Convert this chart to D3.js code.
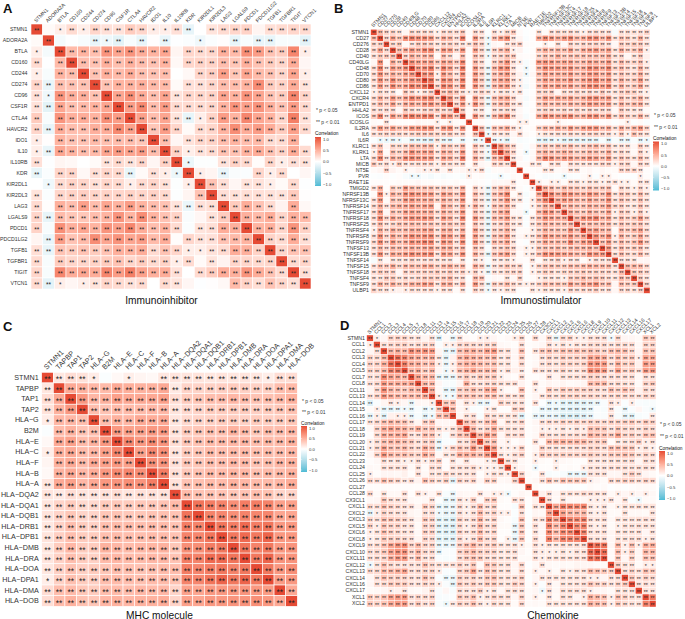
<!DOCTYPE html>
<html><head><meta charset="utf-8">
<script src="https://cdn.jsdelivr.net/npm/d3@7"></script>
<style>
html,body{margin:0;padding:0;background:#fff}
svg{display:block;font-family:"Liberation Sans",Arial,sans-serif}
</style></head><body>
<svg id="chart" width="685" height="619"></svg>
<script>
// Each values row holds the correlation (in hundredths) of gene i with genes i+1, i+2, ... (matrix is symmetric, diagonal = 1)
const genesA=["STMN1","ADORA2A","BTLA","CD160","CD244","CD274","CD96","CSF1R","CTLA4","HAVCR2","IDO1","IL10","IL10RB","KDR","KIR2DL1","KIR2DL3","LAG3","LGALS9","PDCD1","PDCD1LG2","TGFB1","TGFBR1","TIGIT","VTCN1"];
const valuesA=[
[3,10,21,10,24,18,17,30,24,11,10,18,-15,0,16,21,24,26,6,19,21,24,21],
[-7,-1,-5,-14,-10,-18,-5,-15,1,-14,-1,-3,-10,-3,1,-15,-5,-14,-15,-5,-5,-17],
[40,44,37,62,52,62,48,44,52,6,24,21,24,46,40,65,57,35,30,70,10],
[38,35,46,37,46,38,35,44,4,24,26,26,38,33,46,35,30,24,48,5],
[35,46,40,48,37,35,38,0,4,24,28,55,33,52,40,35,24,52,10],
[35,44,44,46,40,40,3,18,18,24,38,38,44,66,30,26,48,16],
[52,65,48,37,52,16,24,24,26,52,44,62,52,35,30,70,24],
[57,68,38,57,21,21,21,24,44,62,55,62,46,35,57,21],
[55,38,52,16,-15,10,26,57,44,70,52,44,24,74,17],
[33,57,24,3,21,24,44,66,48,57,48,30,55,21],
[38,5,17,24,26,38,44,38,40,21,21,46,0],
[26,10,17,21,35,35,44,48,35,26,48,21],
[-12,-2,-2,16,26,21,2,24,10,18,16],
[10,6,-13,-4,-3,24,10,21,0,5],
[35,18,5,16,17,10,3,21,-1],
[19,17,19,18,17,16,30,1],
[30,48,35,21,7,48,4],
[46,40,48,24,46,40],
[44,46,24,62,26],
[26,21,48,19],
[24,35,35],
[21,24],
[19]];

const genesB=["STMN1","CD27","CD276","CD28","CD40","CD40LG","CD48","CD70","CD80","CD86","CXCL12","CXCR4","ENTPD1","HHLA2","ICOS","ICOSLG","IL2RA","IL6","IL6R","KLRC1","KLRK1","LTA","MICB","NT5E","PVR","RAET1E","TMIGD2","TNFRSF13B","TNFRSF13C","TNFRSF14","TNFRSF17","TNFRSF18","TNFRSF25","TNFRSF4","TNFRSF8","TNFRSF9","TNFSF13","TNFSF13B","TNFSF14","TNFSF15","TNFSF18","TNFSF4","TNFSF9","ULBP1"];
const valuesB=[
[40,24,24,18,5,21,21,21,18,10,21,21,19,30,3,21,18,-3,19,10,21,30,3,-2,2,17,3,18,21,19,21,16,10,18,21,19,18,-6,18,18,17,18,24],
[24,52,30,62,70,62,62,57,21,46,40,18,70,2,57,21,-12,35,52,66,16,6,-3,2,46,66,57,46,57,66,40,46,62,62,40,62,16,35,30,17,46,17],
[21,30,4,16,30,30,26,16,24,26,21,16,16,35,24,-12,5,3,16,21,26,2,2,2,10,3,18,5,26,17,24,24,24,24,18,4,30,24,30,30,17],
[35,46,57,46,66,66,17,57,52,21,57,3,52,24,-14,24,35,46,10,7,-2,2,30,46,35,40,35,52,24,46,52,57,40,52,16,46,26,30,46,10],
[26,46,35,40,44,3,35,21,5,35,2,35,24,-10,21,24,35,30,3,2,3,21,35,30,46,30,35,35,35,35,35,35,46,17,24,5,16,30,8],
[62,52,52,52,30,52,46,30,66,2,40,21,-6,26,40,62,17,10,-5,3,57,62,57,46,52,52,35,40,52,46,40,57,17,40,24,24,35,12],
[57,62,74,21,70,52,21,74,2,57,24,-15,40,62,66,18,4,-10,3,40,66,57,57,52,62,40,46,66,62,46,66,24,40,24,17,46,17],
[62,62,10,57,40,16,62,5,57,30,-14,35,46,57,21,8,-10,5,35,57,46,46,46,57,35,46,57,57,40,57,17,35,24,24,46,17],
[78,17,66,57,24,70,4,62,30,-18,40,52,57,21,10,-4,3,35,57,46,52,46,62,35,52,62,70,46,62,18,46,26,30,57,17],
[24,70,62,24,70,4,62,30,-20,40,52,57,21,10,-8,3,35,57,46,57,46,57,35,52,66,66,52,66,18,46,24,30,52,17],
[30,40,30,18,10,18,24,16,10,16,16,10,16,-3,2,24,24,26,6,21,18,24,17,24,16,30,17,16,26,30,26,16,10],
[62,21,66,3,57,24,-15,35,46,52,24,6,-6,3,30,57,46,52,46,57,35,46,62,62,46,57,16,40,21,30,46,17],
[24,57,10,62,30,-14,30,40,46,19,17,-3,2,30,46,35,40,35,46,35,46,57,52,46,52,16,46,30,40,46,16],
[30,3,17,16,-5,18,18,21,16,4,-2,3,18,26,24,17,24,17,24,16,24,17,21,21,4,30,17,16,16,3],
[3,62,24,-14,40,57,70,21,6,-5,2,46,66,57,52,57,66,40,46,62,62,40,62,17,40,26,21,46,17],
[3,3,-3,2,2,3,2,10,10,2,2,2,3,10,3,2,2,3,3,-4,2,3,-2,3,10,-2,3,-3],
[35,-14,35,35,46,21,10,2,3,26,40,35,46,35,57,35,52,57,57,35,46,17,46,26,40,57,24],
[-10,16,16,18,5,21,3,2,10,17,17,19,18,24,16,21,24,24,21,21,10,30,10,35,24,16],
[-13,-10,-18,3,-5,-3,-2,-15,-20,-15,-10,-18,-18,-17,-15,-18,-15,-5,-18,-5,-15,-14,-4,-15,-10],
[62,40,24,3,-3,5,24,35,26,35,30,40,21,26,35,40,24,35,13,18,17,5,30,13],
[52,24,3,-10,4,35,46,35,35,46,40,26,30,40,35,26,46,13,24,16,4,26,10],
[16,5,-3,5,40,70,62,46,57,57,40,46,57,52,35,57,17,35,24,17,40,17],
[3,3,16,16,3,18,21,5,21,17,17,18,16,24,24,10,24,24,5,24,17],
[2,2,3,16,16,3,5,16,16,3,5,2,5,3,3,24,24,24,16,2],
[3,-2,-5,-4,-3,-12,-4,-3,3,10,-3,10,10,2,-2,-2,-2,11,2],
[10,3,10,10,3,16,16,10,16,16,10,16,17,10,10,3,16,16],
[46,40,24,40,35,30,24,35,26,30,35,3,24,16,10,24,10],
[70,46,66,62,46,46,62,52,35,66,16,35,30,17,40,17],
[46,57,52,40,35,52,40,35,62,17,35,24,17,35,16],
[35,46,35,35,46,40,40,57,24,30,16,16,35,16],
[46,35,30,46,35,30,52,10,30,24,10,30,10],
[40,62,62,70,40,52,16,40,26,30,57,24],
[35,40,35,40,40,16,35,26,30,35,18],
[52,57,40,40,3,40,30,40,52,21],
[62,46,66,10,46,26,30,52,21],
[35,57,18,40,26,35,62,26],
[57,16,40,24,30,35,16],
[18,40,24,21,40,18],
[17,17,16,5,5],
[40,40,40,21],
[30,30,21],
[30,16],
[24]];

const genesC=["STMN1","TAPBP","TAP1","TAP2","HLA−G","B2M","HLA−E","HLA−C","HLA−F","HLA−B","HLA−A","HLA−DQA2","HLA−DQA1","HLA−DQB1","HLA−DRB1","HLA−DPB1","HLA−DMB","HLA−DRA","HLA−DOA","HLA−DPA1","HLA−DMA","HLA−DOB"];
const valuesC=[
[14,20,17,11,-3,4,10,6,4,14,15,15,16,14,16,14,15,14,10,20,20],
[50,45,42,40,50,47,45,45,50,13,25,25,27,28,30,27,27,27,38,40],
[60,42,45,55,50,50,50,55,20,30,33,38,38,42,38,35,37,40,45],
[38,35,40,40,40,42,42,16,22,25,30,30,30,30,28,30,33,36],
[38,45,42,50,48,50,15,22,25,27,30,30,27,30,28,30,33],
[60,55,55,60,60,17,30,33,37,37,45,40,33,38,38,42],
[70,60,68,62,20,32,35,40,40,42,42,38,40,40,45],
[55,70,65,15,30,32,40,38,40,40,37,38,38,42],
[65,62,18,32,33,38,38,42,40,35,37,42,45],
[75,18,32,35,40,40,43,42,37,40,40,45],
[17,35,37,40,40,45,42,40,40,42,48],
[40,35,35,35,33,35,38,36,25,25],
[80,75,72,65,75,75,72,55,55],
[72,70,65,72,70,70,52,52],
[80,75,85,75,80,60,60],
[78,85,78,88,60,60],
[80,72,78,60,62],
[78,88,62,62],
[78,60,65],
[58,60],
[50]];

const genesD=["STMN1","CCL1","CCL2","CCL3","CCL4","CCL5","CCL7","CCL8","CCL11","CCL13","CCL14","CCL15","CCL16","CCL17","CCL18","CCL19","CCL20","CCL21","CCL22","CCL23","CCL24","CCL25","CCL26","CCL27","CCL28","CX3CL1","CXCL1","CXCL2","CXCL3","CXCL5","CXCL6","CXCL8","CXCL9","CXCL10","CXCL11","CXCL12","CXCL13","CXCL14","CXCL16","CXCL17","XCL1","XCL2"];
const valuesD=[
[10,5,24,24,24,17,17,6,17,-20,3,-15,16,4,2,10,11,5,2,4,10,21,2,21,4,21,-15,21,24,10,10,18,18,18,-10,21,5,5,3,30,30],
[17,21,24,26,17,21,21,24,-4,10,10,21,24,21,18,21,24,4,3,2,18,2,3,5,18,10,17,10,16,13,21,21,21,16,21,18,18,4,24,24],
[40,44,40,66,57,62,57,6,-15,-17,35,46,46,35,52,57,18,17,5,35,2,16,30,35,24,35,32,35,30,35,30,24,35,38,35,21,5,35,33],
[82,70,52,46,40,46,13,-17,8,40,52,44,40,35,40,13,18,5,26,2,4,17,26,18,30,24,26,26,52,52,46,21,38,26,30,10,52,48],
[74,48,46,35,40,10,-13,10,35,46,46,40,33,35,16,16,4,21,2,4,16,21,16,26,24,21,24,62,62,57,17,44,26,30,8,57,57],
[40,46,30,40,5,-10,10,35,44,52,35,40,38,10,18,8,13,2,18,16,17,16,24,17,17,21,66,62,57,17,52,24,30,15,57,57],
[52,40,40,-14,-14,-14,18,30,18,30,26,30,10,4,2,18,2,2,4,18,6,16,17,16,18,26,24,18,18,18,18,18,4,18,17],
[40,40,5,-4,-5,6,46,18,17,21,24,18,17,18,7,2,19,3,6,4,6,3,4,6,40,40,40,17,21,17,17,3,24,30],
[46,4,-15,-17,26,30,37,24,46,48,10,3,4,35,2,10,4,30,17,30,24,26,24,24,21,17,35,24,35,24,7,21,18],
[10,-10,-10,35,35,35,28,35,37,18,21,16,26,2,5,16,24,17,26,24,26,21,26,21,21,21,24,21,21,16,24,24],
[30,35,5,17,10,-14,-14,4,26,18,16,16,-2,17,-2,-15,-10,-18,-18,-18,-18,-15,-14,-4,16,11,-3,10,-4,-5,-4],
[40,5,10,-4,-3,10,16,2,2,24,26,0,-5,-15,-16,-14,-18,-20,-20,-18,-15,-4,-5,16,-4,-13,-4,5,-4,-11],
[5,16,18,-5,24,17,16,16,16,-20,-2,-14,-16,-14,-14,-25,-22,-25,-20,-14,-4,-4,16,-5,-14,-18,-5,-3,13],
[35,35,17,35,46,5,18,16,24,2,5,17,21,17,26,21,24,21,26,24,21,26,24,26,30,18,30,26],
[40,17,26,46,17,17,16,18,2,4,10,10,10,15,10,15,11,35,33,30,16,30,21,21,16,24,21],
[40,62,46,5,21,18,24,2,4,26,18,16,21,18,21,18,46,40,35,30,52,24,30,17,35,35],
[30,35,5,10,2,5,-2,18,4,40,40,44,40,40,40,26,26,30,3,13,16,18,26,10,16],
[57,10,10,10,26,2,5,26,17,17,16,18,18,18,26,24,19,35,35,30,30,10,16,10],
[16,10,18,26,2,10,30,26,24,26,24,24,24,30,24,21,30,30,35,30,16,24,21],
[16,15,4,2,10,3,2,10,4,3,2,2,16,13,16,16,16,17,18,5,18,17],
[10,5,2,-10,2,2,10,2,3,2,10,16,16,16,18,18,18,16,16,18,16],
[24,3,2,17,-5,-3,-5,-14,-14,-14,17,17,17,5,5,16,28,17,5,3],
[3,5,17,35,17,35,30,30,30,10,5,3,21,21,26,24,17,24,21],
[3,1,-2,-1,-2,-3,-2,-2,3,2,3,-1,2,-2,2,3,3,3],
[8,17,5,16,18,16,21,18,16,17,4,11,5,10,5,10,4],
[16,4,16,5,5,5,10,11,10,17,5,16,-3,-10,3,3],
[52,74,70,66,70,16,10,16,4,10,16,16,17,16,16],
[52,40,40,40,13,10,16,3,3,16,4,4,3,16],
[70,66,70,18,16,19,4,15,16,16,17,18,17],
[66,70,16,10,16,3,10,16,16,17,16,16],
[70,17,16,18,6,16,16,16,17,5,16],
[18,16,18,5,16,16,18,17,10,16],
[86,82,5,40,10,35,10,46,46],
[84,3,35,10,26,5,40,40],
[3,30,5,26,5,35,35],
[26,16,16,3,10,10],
[17,24,16,35,30],
[30,16,26,21],
[16,18,17],
[16,16],
[74]];

const correlationTicks=[1,0.5,0,-0.5,-1];
const panelTitles=["Immunoinhibitor","Immunostimulator","MHC molecule","Chemokine"];
const panelLetters=["A","B","C","D"];
const pNotes=["* p < 0.05","** p < 0.01"];

const svg=d3.select("#chart");
const ink="#333";
const color=d3.scaleLinear().domain([-1,0,1]).range(["#4DBBD5","#FFFFFF","#E64B35"]).interpolate(d3.interpolateLab);
const stars=r=>{const a=Math.abs(r);return a>=0.125?"**":a>=0.09?"*":"";};

const defs=svg.append("defs");
const grad=defs.append("linearGradient").attr("id","cbar").attr("x1",0).attr("x2",0).attr("y1",0).attr("y2",1);
d3.range(1,-1.001,-0.1).forEach(v=>grad.append("stop").attr("offset",(1-v)/2).attr("stop-color",color(v)));

function panel(genes,tri,g){
  if(tri.length!==genes.length-1) throw new Error("rows "+g.title+" "+tri.length);
  tri.forEach((r,i)=>{if(r.length!==genes.length-1-i) throw new Error("row "+g.title+" "+i+" len "+r.length);});
  const cells=[];
  genes.forEach((a,i)=>genes.forEach((b,j)=>{
    const v=i===j?1:(i<j?tri[i][j-i-1]:tri[j][i-j-1])/100;
    cells.push({a,b,v});
  }));
  const x=d3.scaleBand().domain(genes).range([g.x0,g.x1]);
  const y=d3.scaleBand().domain(genes).range([g.y0,g.y1]);
  const root=svg.append("g");
  root.selectAll("rect.c").data(cells).join("rect").attr("class","c")
    .attr("x",d=>x(d.b)).attr("y",d=>y(d.a)).attr("width",x.bandwidth()).attr("height",y.bandwidth())
    .attr("fill",d=>color(d.v)).attr("stroke","#fff").attr("stroke-width",g.gap);
  root.selectAll("text.s").data(cells.filter(d=>stars(d.v))).join("text").attr("class","s")
    .attr("x",d=>x(d.b)+x.bandwidth()/2).attr("y",d=>y(d.a)+y.bandwidth()/2+g.star*0.57)
    .attr("text-anchor","middle").attr("font-size",g.star).attr("fill","#222").text(d=>stars(d.v));
  const left=root.append("g").attr("transform",`translate(${g.x0-g.pad},0)`).call(d3.axisLeft(y).tickSize(0).tickPadding(0));
  left.select(".domain").remove();
  left.selectAll("text").attr("font-size",g.font).attr("font-family","inherit").attr("fill",ink);
  if(g.clipX!==undefined){
    defs.append("clipPath").attr("id","clip"+g.letter).append("rect").attr("x",g.clipX).attr("y",0).attr("width",100).attr("height",619);
    root.append("g").attr("clip-path",`url(#clip${g.letter})`).node().appendChild(left.node());
  }
  const top=root.append("g").attr("transform",`translate(0,${g.y0})`).call(d3.axisTop(x).tickSize(0).tickPadding(0));
  top.select(".domain").remove();
  top.selectAll("text").attr("font-size",g.font).attr("font-family","inherit").attr("fill",ink)
    .attr("text-anchor","start").attr("y",0).attr("dy","0.35em")
    .attr("transform",`translate(${g.tx},${g.ty}) rotate(-45)`);
  root.append("text").attr("x",g.nx).attr("y",g.n1).attr("font-size",5).attr("fill",ink).attr("dy","0.35em").text(pNotes[0]);
  root.append("text").attr("x",g.nx).attr("y",g.n2).attr("font-size",5).attr("fill",ink).attr("dy","0.35em").text(pNotes[1]);
  root.append("text").attr("x",g.lx).attr("y",g.lt).attr("font-size",4.8).attr("fill","#111").attr("dy","0.35em").text("Correlation");
  const ls=d3.scaleLinear().domain([1,-1]).range([g.l1,g.lm]);
  const barTop=ls(1)-2, barBot=ls(-1)+2;
  root.append("rect").attr("x",g.lx).attr("y",barTop).attr("width",6).attr("height",barBot-barTop).attr("fill","url(#cbar)");
  root.append("g").selectAll("line").data(correlationTicks).join("line")
    .attr("x1",g.lx).attr("x2",g.lx+1.2).attr("y1",d=>ls(d)).attr("y2",d=>ls(d)).attr("stroke","#fff").attr("stroke-width",.4);
  const la=root.append("g").attr("transform",`translate(${g.lx+6},0)`).call(d3.axisRight(ls).tickValues(correlationTicks).tickSize(0).tickPadding(2).tickFormat(d3.format(".1f")));
  la.select(".domain").remove();
  la.selectAll("text").attr("font-size",4.2).attr("font-family","inherit").attr("fill",ink);
  root.append("text").attr("x",g.tc).attr("y",g.tyy).attr("text-anchor","middle").attr("dy","0.35em").attr("font-size",10.2).attr("fill","#111").text(g.title);
  root.append("text").attr("x",g.ax).attr("y",g.ay).attr("font-size",13).attr("font-weight","bold").attr("fill","#111").text(g.letter);
}

panel(genesA,valuesA,{title:panelTitles[0],letter:panelLetters[0],x0:31,x1:311,y0:24,y1:289,gap:.6,star:6.4,font:5.2,pad:3.5,tx:-2,ty:-2.5,nx:316,n1:110,n2:122,lx:315,lt:133,l1:139,lm:184,tc:161.5,tyy:300,ax:3,ay:12.5});
panel(genesB,valuesB,{title:panelTitles[1],letter:panelLetters[1],x0:370.7,x1:650,y0:29.3,y1:293.3,gap:.4,star:5,font:5.2,pad:1.7,clipX:342,tx:-2,ty:-3,nx:654,n1:115,n2:127,lx:653,lt:138,l1:143.5,lm:188.5,tc:541,tyy:300.5,ax:334,ay:12.5});
panel(genesC,valuesC,{title:panelTitles[2],letter:panelLetters[2],x0:41.7,x1:297.3,y0:372.3,y1:606.3,gap:.6,star:8.4,font:7.2,pad:3,tx:-2.5,ty:-4,nx:302,n1:401,n2:412,lx:301,lt:423,l1:428,lm:470,tc:159.5,tyy:615,ax:3,ay:331});
panel(genesD,valuesD,{title:panelTitles[3],letter:panelLetters[3],x0:366.7,x1:656,y0:335,y1:607,gap:.4,star:5.2,font:5.2,pad:1.7,tx:-2,ty:-2,nx:660,n1:424,n2:436,lx:659,lt:448,l1:453,lm:498,tc:553,tyy:615,ax:340,ay:329.5});
</script>
</body></html>
